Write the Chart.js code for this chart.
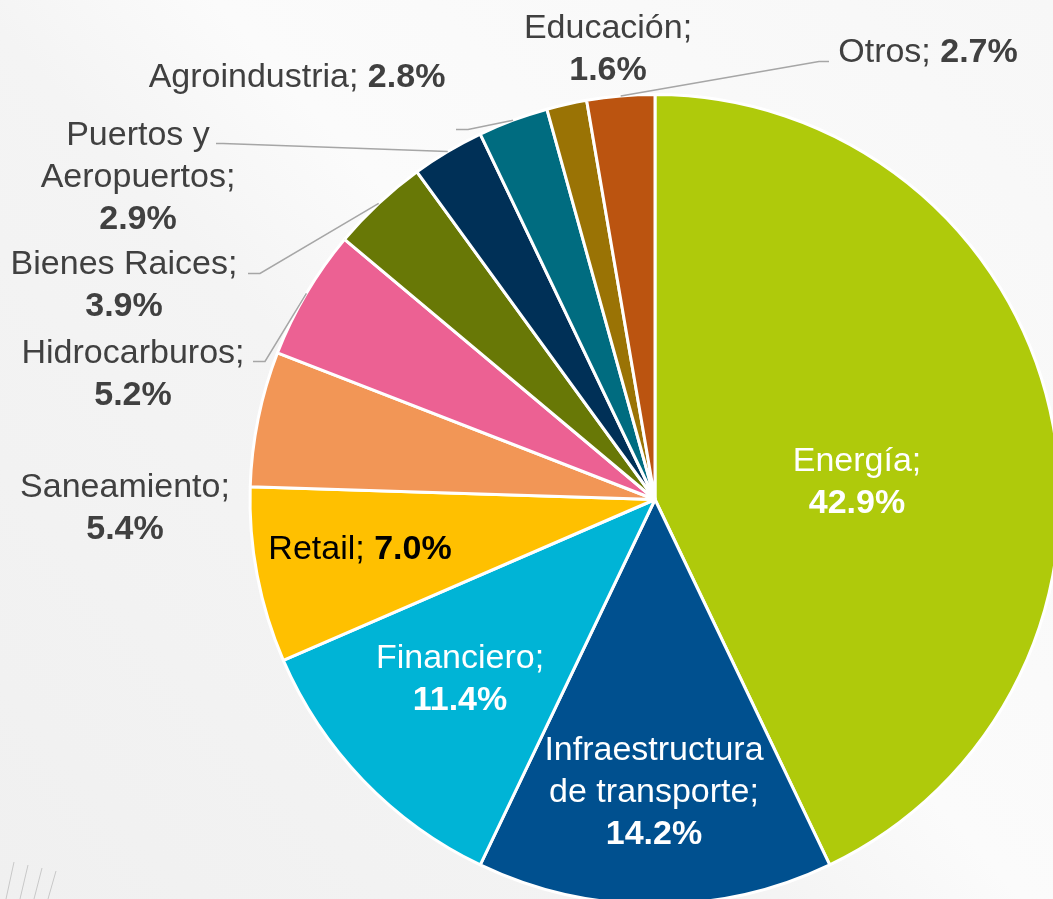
<!DOCTYPE html>
<html>
<head>
<meta charset="utf-8">
<script src="https://cdn.jsdelivr.net/npm/chart.js@4"></script>
<style>
  html, body { margin: 0; padding: 0; width: 1053px; height: 899px; overflow: hidden; }
  body {
    position: relative;
    background: linear-gradient(48deg, #f0f0f0 0%, #f4f4f4 42%, #fbfbfb 55%, #f7f7f7 100%);
  }
  #chart { position: absolute; left: 0; top: 0; }
</style>
</head>
<body>
<canvas id="chart" width="1310" height="1000"></canvas>
<script>
// sector names ('\n' = where the label wraps) and their share of the portfolio, %
const sectors = ['Energía', 'Infraestructura\nde transporte', 'Financiero', 'Retail', 'Saneamiento',
                 'Hidrocarburos', 'Bienes Raices', 'Puertos y\nAeropuertos', 'Agroindustria', 'Educación', 'Otros'];
const shares = [42.9, 14.2, 11.4, 7.0, 5.4, 5.2, 3.9, 2.9, 2.8, 1.6, 2.7];
const sliceColors = ['#afca0b', '#00508f', '#00b4d6', '#ffc000', '#f29656',
                     '#ec6193', '#687806', '#003057', '#006c80', '#9a7305', '#bb5410'];

// where each label goes, relative to the pie centre (x = text centre, y = first baseline)
const labelLayout = [
  { dx: 202,  dy: -29,  color: '#ffffff' },
  { dx: -1,   dy: 260,  color: '#ffffff' },
  { dx: -195, dy: 168,  color: '#ffffff' },
  { dx: -295, dy: 59,   color: '#000000', inline: true },
  { dx: -530, dy: -3,   color: '#404040' },
  { dx: -522, dy: -137, color: '#404040', leader: [[-390, -138], [-402, -138]] },
  { dx: -531, dy: -226, color: '#404040', leader: [[-395, -226], [-407, -226]] },
  { dx: -517, dy: -355, color: '#404040', leader: [[-432, -356], [-439, -356]] },
  { dx: -358, dy: -413, color: '#404040', inline: true, leader: [[-187, -370], [-199, -370]] },
  { dx: -47,  dy: -462, color: '#404040' },
  { dx: 273,  dy: -438, color: '#404040', inline: true, leader: [[164, -438], [174, -438]] }
];

const FONT = '"Liberation Sans", Arial, sans-serif';
const SIZE = 34;
const LINE = 42;

const sliceLabels = {
  id: 'sliceLabels',
  beforeDraw(chart) {
    // faint hatch marks in the lower left corner
    const ctx = chart.ctx;
    ctx.save();
    ctx.strokeStyle = '#c8c8c8';
    ctx.lineWidth = 1;
    for (let k = 0; k < 4; k++) {
      ctx.beginPath();
      ctx.moveTo(6 + k * 14, 899);
      ctx.lineTo(14 + k * 14, 862 + k * 3);
      ctx.stroke();
    }
    ctx.restore();
  },
  afterDatasetsDraw(chart) {
    const ctx = chart.ctx;
    const arcs = chart.getDatasetMeta(0).data;
    ctx.save();
    arcs.forEach((arc, i) => {
      const L = labelLayout[i];
      const cx = arc.x, cy = arc.y;
      if (L.leader) {
        const mid = (arc.startAngle + arc.endAngle) / 2;
        ctx.beginPath();
        ctx.moveTo(cx + Math.cos(mid) * arc.outerRadius, cy + Math.sin(mid) * arc.outerRadius);
        L.leader.forEach(p => ctx.lineTo(cx + p[0], cy + p[1]));
        ctx.strokeStyle = '#a6a6a6';
        ctx.lineWidth = 1.5;
        ctx.stroke();
      }
      const lines = sectors[i].split('\n');
      lines[lines.length - 1] += ';';
      const value = shares[i].toFixed(1) + '%';
      const regular = SIZE + 'px ' + FONT;
      const bold = 'bold ' + SIZE + 'px ' + FONT;
      ctx.fillStyle = L.color;
      ctx.textBaseline = 'alphabetic';
      let y = cy + L.dy;
      const x = cx + L.dx;
      lines.forEach((line, j) => {
        const last = j === lines.length - 1;
        if (last && L.inline) {
          ctx.font = regular;
          const a = line + ' ';
          const wa = ctx.measureText(a).width;
          ctx.font = bold;
          const wb = ctx.measureText(value).width;
          const x0 = x - (wa + wb) / 2;
          ctx.textAlign = 'left';
          ctx.font = regular;
          ctx.fillText(a, x0, y);
          ctx.font = bold;
          ctx.fillText(value, x0 + wa, y);
        } else {
          ctx.font = regular;
          ctx.textAlign = 'center';
          ctx.fillText(line, x, y);
          y += LINE;
        }
      });
      if (!L.inline) {
        ctx.font = bold;
        ctx.textAlign = 'center';
        ctx.fillText(value, x, y);
      }
    });
    ctx.restore();
  }
};

new Chart(document.getElementById('chart').getContext('2d'), {
  type: 'pie',
  data: {
    labels: sectors,
    datasets: [{
      data: shares,
      backgroundColor: sliceColors,
      borderColor: '#ffffff',
      borderWidth: 3
    }]
  },
  options: {
    responsive: false,
    animation: false,
    layout: { padding: { top: 93, bottom: 94, left: 0, right: 0 } },
    plugins: {
      legend: { display: false },
      tooltip: { enabled: false }
    }
  },
  plugins: [sliceLabels]
});
</script>
</body>
</html>
